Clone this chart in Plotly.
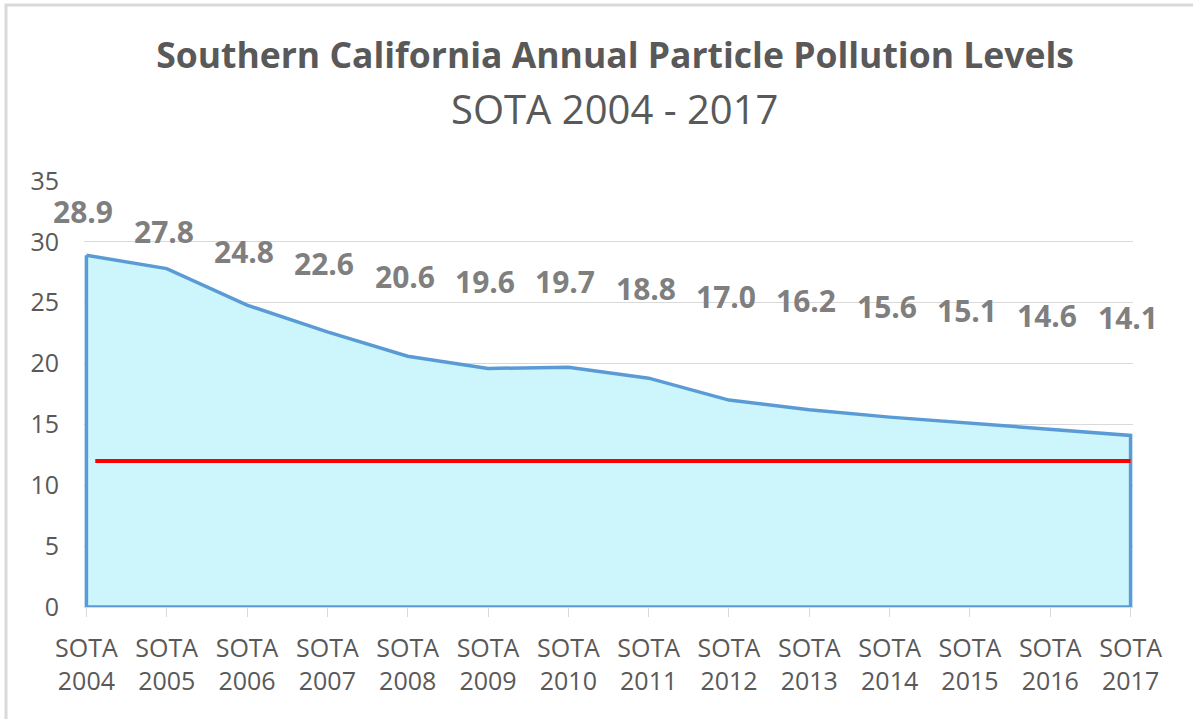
import plotly.graph_objects as go

# ---- data ----
years = ["2004", "2005", "2006", "2007", "2008", "2009", "2010",
         "2011", "2012", "2013", "2014", "2015", "2016", "2017"]
tick_labels = ["SOTA<br>" + y for y in years]
pm_levels = [28.9, 27.8, 24.8, 22.6, 20.6, 19.6, 19.7,
             18.8, 17.0, 16.2, 15.6, 15.1, 14.6, 14.1]
standard_level = 12

# ---- style / layout ----
W, H = 1193, 719
L, R, T, B = 84, 60, 181, 112
label_offsets_px = [44, 37, 54, 68, 80, 87, 86, 90, 104, 109, 111, 113, 114, 118]
FONT = "Open Sans"


def px_x(px):
    return (px - L) / (W - L - R)


def px_y(py):
    return (H - B - py) / (H - T - B)


n = len(pm_levels)
idx = list(range(n))

fig = go.Figure()
fig.add_trace(go.Scatter(
    x=idx + [idx[-1], idx[0], idx[0]],
    y=pm_levels + [0, 0, pm_levels[0]],
    mode="lines",
    fill="toself",
    fillcolor="#CCF5FC",
    line=dict(color="#5B9BD5", width=3.5),
    hoverinfo="skip",
    showlegend=False,
))

# standard reference line
fig.add_shape(type="line", xref="x", yref="y",
              x0=idx[0] + 0.11, x1=idx[-1], y0=standard_level, y1=standard_level,
              line=dict(color="#FF0000", width=4))

# data labels
for i, v in enumerate(pm_levels):
    fig.add_annotation(x=i, y=v, xref="x", yref="y", text=f"{v:.1f}",
                       showarrow=False, yshift=label_offsets_px[i], xshift=-3,
                       yanchor="middle", xanchor="center",
                       font=dict(family=FONT, size=30, color="#7F7F7F", weight="bold"))

# subtitle
fig.add_annotation(x=px_x(614), y=px_y(108), xref="paper", yref="paper",
                   text="SOTA 2004 - 2017", showarrow=False,
                   xanchor="center", yanchor="middle",
                   font=dict(family=FONT, size=40, color="#595959"))

# chart border (top and left visible)
fig.add_shape(type="rect", xref="paper", yref="paper",
              x0=px_x(6), x1=px_x(1260), y0=px_y(760), y1=px_y(5),
              line=dict(color="#D9D9D9", width=3), fillcolor="rgba(0,0,0,0)",
              layer="below")

fig.update_layout(
    width=W, height=H,
    margin=dict(l=L, r=R, t=T, b=B),
    paper_bgcolor="white", plot_bgcolor="white",
    title=dict(text="Southern California Annual Particle Pollution Levels",
               x=615 / W, xanchor="center", y=1 - 56 / H, yanchor="middle",
               yref="container", xref="container",
               font=dict(family=FONT, size=35.5, color="#595959", weight="bold")),
    xaxis=dict(range=[-0.03, n - 1 + 0.03], tickmode="array", tickvals=idx,
               ticktext=tick_labels, showgrid=False, zeroline=False,
               showline=True, linecolor="#D9D9D9", linewidth=1,
               ticks="outside", ticklen=9, tickcolor="#D9D9D9", tickwidth=1,
               ticklabelstandoff=10,
               tickfont=dict(family=FONT, size=25, color="#595959")),
    yaxis=dict(range=[0, 35], tickmode="array", tickvals=[0, 5, 10, 15, 20, 25, 30, 35],
               showgrid=True, gridcolor="#D9D9D9", gridwidth=1, zeroline=False,
               showline=False, ticks="", ticklabelstandoff=24,
               tickfont=dict(family=FONT, size=25, color="#595959")),
)

fig.write_html("out.html", config={"displayModeBar": False},
               post_script="document.body.style.margin='0';")
